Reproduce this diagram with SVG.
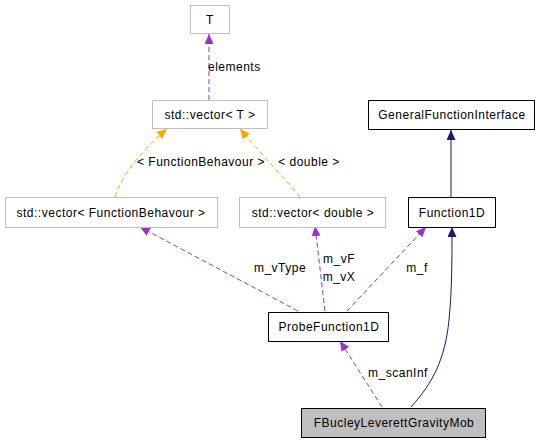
<svg xmlns="http://www.w3.org/2000/svg" width="539" height="443" viewBox="0 0 539 443">
<style>
text{font-family:"Liberation Sans",Arial,Helvetica,sans-serif;font-size:12px;letter-spacing:0.5px;fill:#000}
.n text{text-anchor:middle}
.g rect{fill:#fff;stroke:#bfbfbf}
.b rect{fill:#fff;stroke:#000}
.h rect{fill:#bfbfbf;stroke:#000}
.p{fill:none;stroke:#9a32cd;stroke-dasharray:5,3}
.o{fill:none;stroke:#ffa500;stroke-dasharray:5,3}
.v{fill:none;stroke:#191970}
</style>
<defs>
<marker id="ap" markerUnits="userSpaceOnUse" markerWidth="11" markerHeight="10" refX="10" refY="4.5" orient="auto"><path d="M0,0 L10,4.5 L0,9 z" fill="#9a32cd"/></marker>
<marker id="ao" markerUnits="userSpaceOnUse" markerWidth="11" markerHeight="10" refX="10" refY="4.5" orient="auto"><path d="M0,0 L10,4.5 L0,9 z" fill="#ffa500"/></marker>
<marker id="av" markerUnits="userSpaceOnUse" markerWidth="11" markerHeight="10" refX="10" refY="4.5" orient="auto"><path d="M0,0 L10,4.5 L0,9 z" fill="#191970"/></marker>
</defs>
<g id="edges">
<path class="p" d="M209,100 L209,34" marker-end="url(#ap)"/>
<text x="208" y="71">elements</text>
<path class="o" d="M115,197 C121,176 142,150 167,129" marker-end="url(#ao)"/>
<text x="201" y="166" text-anchor="middle">&lt; FunctionBehavour &gt;</text>
<path class="o" d="M300,197 C288,182 262,155 240,129" marker-end="url(#ao)"/>
<text x="309" y="166" text-anchor="middle">&lt; double &gt;</text>
<path class="v" d="M451,197 L451,130" marker-end="url(#av)"/>
<path class="p" d="M298,311 L140,227" marker-end="url(#ap)"/>
<text x="280" y="272" text-anchor="middle">m_vType</text>
<path class="p" d="M325,311 L315,226" marker-end="url(#ap)"/>
<text x="339" y="263" text-anchor="middle">m_vF</text>
<text x="339" y="281" text-anchor="middle">m_vX</text>
<path class="p" d="M347,311 L426,227" marker-end="url(#ap)"/>
<text x="417" y="272" text-anchor="middle">m_f</text>
<path class="p" d="M382,407 L340,341" marker-end="url(#ap)"/>
<text x="398" y="377" text-anchor="middle">m_scanInf</text>
<path class="v" d="M411,407 C432,384 445,360 449,320 C452,290 452,260 452,227" marker-end="url(#av)"/>
</g>
<g id="T" class="n g"><rect x="190.5" y="5.5" width="39" height="28"/><text x="210" y="24">T</text></g>
<g id="vecT" class="n g"><rect x="152.5" y="100.5" width="115" height="28"/><text x="210" y="119">std::vector&lt; T &gt;</text></g>
<g id="vecFB" class="n g"><rect x="5.5" y="197.5" width="212" height="30"/><text x="111" y="217">std::vector&lt; FunctionBehavour &gt;</text></g>
<g id="vecD" class="n g"><rect x="239.5" y="197.5" width="146" height="30"/><text x="313" y="217">std::vector&lt; double &gt;</text></g>
<g id="GFI" class="n b"><rect x="368.5" y="100.5" width="166" height="29"/><text x="452" y="119">GeneralFunctionInterface</text></g>
<g id="F1D" class="n b"><rect x="408.5" y="197.5" width="87" height="30"/><text x="452" y="217">Function1D</text></g>
<g id="PF1D" class="n b"><rect x="268.5" y="312.5" width="120" height="29"/><text x="329" y="331">ProbeFunction1D</text></g>
<g id="FBLGM" class="n h"><rect x="301.5" y="408.5" width="184" height="29"/><text x="394" y="427">FBucleyLeverettGravityMob</text></g>
</svg>
